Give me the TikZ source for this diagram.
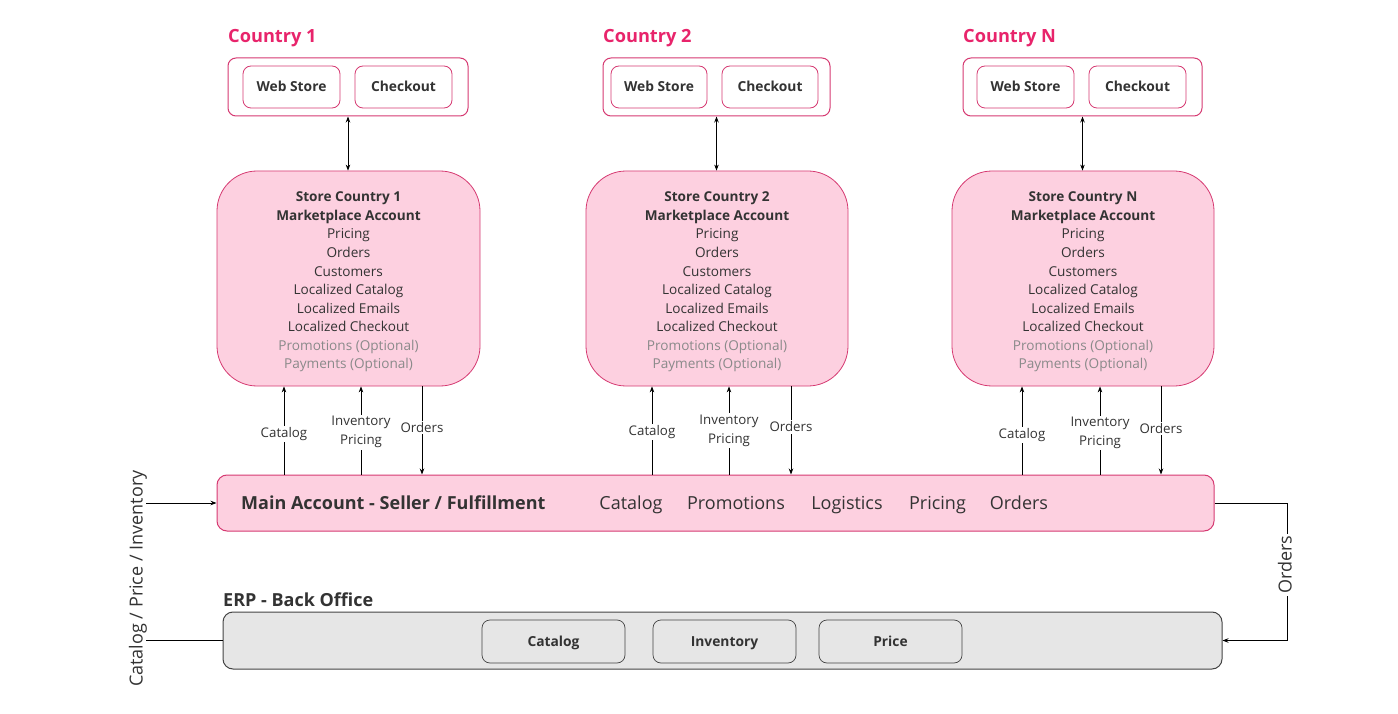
\documentclass[tikz,border=0pt]{standalone}
\usepackage{fontspec}
\setmainfont{Open Sans}
\usetikzlibrary{arrows.meta,calc}
\definecolor{pinkfill}{HTML}{FDD0E0}
\definecolor{pinkline}{HTML}{D63A72}
\definecolor{pinktext}{HTML}{E8246B}
\definecolor{txt}{HTML}{333333}
\definecolor{opt}{HTML}{8A8A8A}
\definecolor{grayfill}{HTML}{E6E6E6}
\definecolor{grayline}{HTML}{444444}
\tikzset{
  countrylbl/.style={anchor=base west,text=pinktext,font=\fontsize{18.2}{20}\selectfont\bfseries,inner sep=0pt},
  container/.style={draw=pinkline,line width=1pt,rounded corners=8pt,fill=white,minimum height=58pt},
  webbox/.style={draw=pinkline,line width=0.8pt,rounded corners=8pt,fill=white,minimum width=97pt,minimum height=42pt,text=txt,text height=1.95ex,text depth=0.2ex,font=\fontsize{13.8}{15}\selectfont\bfseries},
  storebox/.style={draw=pinkline,line width=0.8pt,rounded corners=40pt,fill=pinkfill,minimum width=263pt,minimum height=215pt},
  storetxt/.style={align=center,text=txt,font=\fontsize{13.6}{18.55}\selectfont},
  mainbox/.style={draw=pinkline,line width=1pt,rounded corners=10pt,fill=pinkfill,minimum width=997pt,minimum height=56pt},
  erpbox/.style={draw=grayline,line width=1pt,rounded corners=10pt,fill=grayfill,minimum width=999pt,minimum height=57pt},
  erpitem/.style={draw=grayline,line width=0.7pt,rounded corners=8pt,fill=grayfill,minimum width=143pt,minimum height=43pt,text=txt,text height=1.95ex,text depth=0.2ex,font=\fontsize{13.8}{15}\selectfont\bfseries},
  arr/.style={-{Stealth[length=6pt,width=4.5pt]},line width=0.8pt,draw=black},
  darr/.style={{Stealth[length=6pt,width=4.5pt]}-{Stealth[length=6pt,width=4.5pt]},line width=0.8pt,draw=black},
  flowlbl/.style={fill=white,inner sep=1.5pt,align=center,text=txt,font=\fontsize{13.3}{19}\selectfont},
  mainlbl/.style={anchor=base,text=txt,inner sep=0pt,font=\fontsize{18}{20}\selectfont},
  sidelbl/.style={fill=white,inner sep=2pt,rotate=90,text=txt,text height=1.9ex,text depth=0.2ex,font=\fontsize{18}{20}\selectfont},
}
\newcommand{\storetext}[1]{\textbf{Store Country #1}\\\textbf{Marketplace Account}\\Pricing\\Orders\\Customers\\Localized Catalog\\Localized Emails\\Localized Checkout\\\textcolor{opt}{Promotions (Optional)}\\\textcolor{opt}{Payments (Optional)}}
\begin{document}
\begin{tikzpicture}[x=1pt,y=-1pt]
\useasboundingbox[fill=white] (0,0) rectangle (1398,714);

% Country labels
\node[countrylbl] (c1lbl) at (228,42.5) {Country 1};
\node[countrylbl] (c2lbl) at (603,42.5) {Country 2};
\node[countrylbl] (cNlbl) at (963,42.5) {Country N};

% Containers
\node[container,minimum width=240pt] (cont1) at (348,87) {};
\node[container,minimum width=227pt] (cont2) at (716.5,87) {};
\node[container,minimum width=239pt] (contN) at (1082.5,87) {};

\node[webbox] (ws1) at (291.5,87) {Web Store};
\node[webbox] (co1) at (403.5,87) {Checkout};
\node[webbox,minimum width=96pt] (ws2) at (659,87) {Web Store};
\node[webbox,minimum width=96pt] (co2) at (770,87) {Checkout};
\node[webbox] (wsN) at (1025.5,87) {Web Store};
\node[webbox] (coN) at (1137.5,87) {Checkout};

% Store boxes
\node[storebox] (st1) at (348.5,278.5) {};
\node[storebox,minimum width=262pt] (st2) at (717,278.5) {};
\node[storebox,minimum width=262pt] (stN) at (1083,278.5) {};
\node[storetxt] (st1t) at (348.5,282) {\storetext{1}};
\node[storetxt] (st2t) at (717,282) {\storetext{2}};
\node[storetxt] (stNt) at (1083,282) {\storetext{N}};

\draw[darr] (cont1.south) -- (st1.north -| cont1.south);
\draw[darr] (cont2.south) -- (st2.north -| cont2.south);
\draw[darr] (contN.south) -- (stN.north -| contN.south);

% Main account
\node[mainbox] (main) at (715.5,503) {};
\node[anchor=base west,text=txt,font=\fontsize{18}{20}\selectfont\bfseries,inner sep=0pt] (maint) at (241,509.5) {Main Account - Seller / Fulfillment};
\node[mainlbl] (m1) at (631,509.5) {Catalog};
\node[mainlbl] (m2) at (736,509.5) {Promotions};
\node[mainlbl] (m3) at (847,509.5) {Logistics};
\node[mainlbl] (m4) at (937.5,509.5) {Pricing};
\node[mainlbl] (m5) at (1019,509.5) {Orders};

% x positions of flows
\coordinate (a1) at (284,0);
\coordinate (b1) at (361,0);
\coordinate (o1) at (422,0);
\coordinate (a2) at (652,0);
\coordinate (b2) at (729,0);
\coordinate (o2) at (791,0);
\coordinate (aN) at (1022,0);
\coordinate (bN) at (1100,0);
\coordinate (oN) at (1161,0);

\draw[arr] (main.north -| a1) -- node[flowlbl,pos=0.46] {Catalog} (st1.south -| a1);
\draw[arr] (main.north -| b1) -- node[flowlbl,pos=0.48] {Inventory\\Pricing} (st1.south -| b1);
\draw[arr] (st1.south -| o1) -- node[flowlbl,pos=0.47] {Orders} (main.north -| o1);

\draw[arr] (main.north -| a2) -- node[flowlbl,pos=0.48] {Catalog} (st2.south -| a2);
\draw[arr] (main.north -| b2) -- node[flowlbl,pos=0.5] {Inventory\\Pricing} (st2.south -| b2);
\draw[arr] (st2.south -| o2) -- node[flowlbl,pos=0.46] {Orders} (main.north -| o2);

\draw[arr] (main.north -| aN) -- node[flowlbl,pos=0.45] {Catalog} (stN.south -| aN);
\draw[arr] (main.north -| bN) -- node[flowlbl,pos=0.47] {Inventory\\Pricing} (stN.south -| bN);
\draw[arr] (stN.south -| oN) -- node[flowlbl,pos=0.48] {Orders} (main.north -| oN);

% ERP
\node[anchor=base west,text=txt,font=\fontsize{18}{20}\selectfont\bfseries,inner sep=0pt] (erplbl) at (223,606) {ERP - Back Office};
\node[erpbox] (erp) at (722.5,640.5) {};
\node[erpitem] (e1) at (553.5,641.5) {Catalog};
\node[erpitem] (e2) at (724.5,641.5) {Inventory};
\node[erpitem] (e3) at (890.5,641.5) {Price};

% side connectors
\coordinate (lx) at (138,0);
\coordinate (rx) at (1287,0);
\draw[arr,line width=0.8pt] (erp.west) -- (erp.west -| lx) |- node[sidelbl,pos=0.225] {Catalog / Price / Inventory} (main.west);
\draw[arr,line width=0.8pt] (main.east) -- (main.east -| rx) |- node[sidelbl,pos=0.225] {Orders} (erp.east);
\end{tikzpicture}
\end{document}
